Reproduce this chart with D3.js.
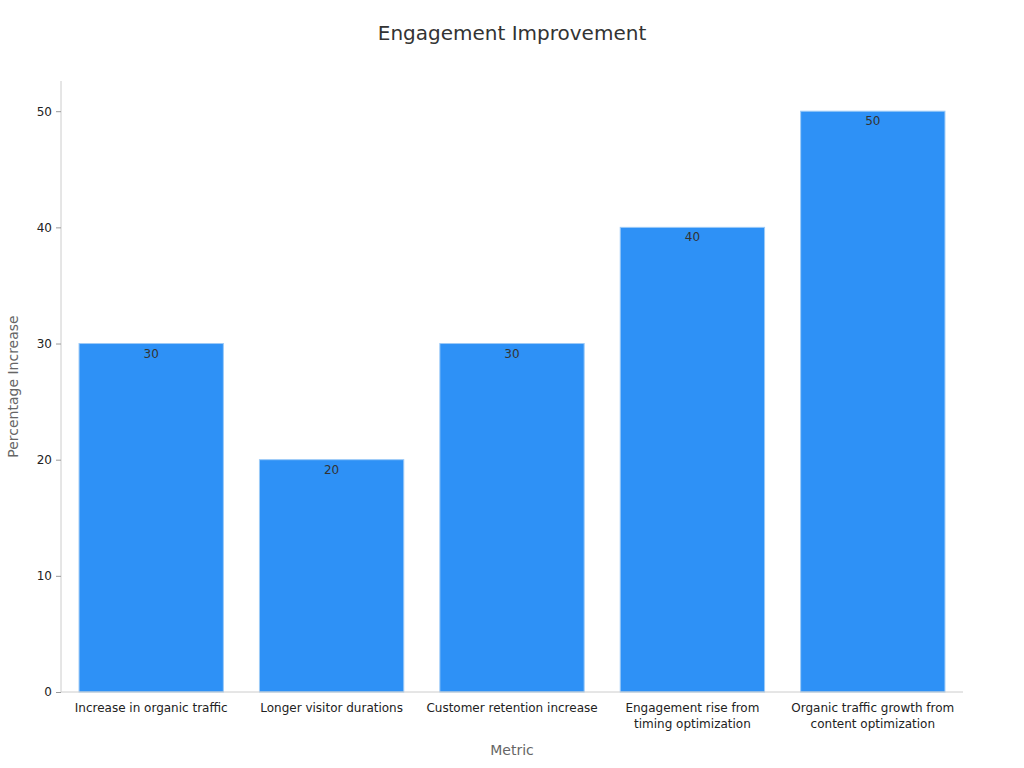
<!DOCTYPE html>
<html>
<head>
<meta charset="utf-8">
<script src="https://cdn.jsdelivr.net/npm/d3@7"></script>
<style>
  body { margin: 0; background: #fff; font-family: "DejaVu Sans", sans-serif; }
</style>
</head>
<body>
<div id="chart"></div>
<script>
// data
const categories = [
  ["Increase in organic traffic"],
  ["Longer visitor durations"],
  ["Customer retention increase"],
  ["Engagement rise from", "timing optimization"],
  ["Organic traffic growth from", "content optimization"]
];
const values = [30, 20, 30, 40, 50];
const yTicks = [0, 10, 20, 30, 40, 50];

const w = 1024, h = 768;
const margin = { top: 81, right: 61, bottom: 76, left: 61 };
const innerWidth = w - margin.left - margin.right;
const innerHeight = h - margin.top - margin.bottom;

const svg = d3.select("#chart").append("svg")
  .attr("width", w).attr("height", h);

const keys = categories.map(c => c.join(" "));

const xScale = d3.scaleBand()
  .domain(keys)
  .range([0, innerWidth])
  .paddingInner(0.2)
  .paddingOuter(0.1);

const yScale = d3.scaleLinear()
  .domain([0, 52.6])
  .range([innerHeight, 0]);

const g = svg.append("g")
  .attr("transform", `translate(${margin.left},${margin.top})`);

// bars
g.selectAll("rect")
  .data(values)
  .enter()
  .append("rect")
  .attr("x", (d, i) => xScale(keys[i]))
  .attr("y", d => yScale(d))
  .attr("width", xScale.bandwidth())
  .attr("height", d => innerHeight - yScale(d))
  .attr("fill", "#2e91f6")
  .attr("stroke", "#9ccaf7")
  .attr("stroke-width", 1);

// value labels
g.selectAll(".val")
  .data(values)
  .enter()
  .append("text")
  .attr("class", "val")
  .attr("x", (d, i) => xScale(keys[i]) + xScale.bandwidth() / 2)
  .attr("y", d => yScale(d) + 14)
  .attr("text-anchor", "middle")
  .attr("font-size", 12)
  .attr("fill", "#333")
  .text(d => d);

// y axis
const yAxis = g.append("g")
  .call(d3.axisLeft(yScale).tickValues(yTicks).tickSize(5).tickPadding(4));
yAxis.selectAll("text").attr("font-size", 12).attr("fill", "#222")
  .attr("font-family", "DejaVu Sans");
yAxis.selectAll("line").attr("stroke", "#999");
yAxis.select(".domain").attr("stroke", "#ccc").attr("d", `M0,0V${innerHeight}`);

// x axis
const xAxis = g.append("g")
  .attr("transform", `translate(0,${innerHeight})`)
  .call(d3.axisBottom(xScale).tickSize(0).tickFormat(""));
xAxis.select(".domain").attr("stroke", "#ccc").attr("d", `M0,0H${innerWidth}`);
xAxis.selectAll(".tick").each(function (d, i) {
  const t = d3.select(this).append("text")
    .attr("text-anchor", "middle")
    .attr("font-size", 12)
    .attr("fill", "#222")
    .attr("font-family", "DejaVu Sans");
  categories[i].forEach((line, j) => {
    t.append("tspan").attr("x", 0).attr("y", 20 + j * 16).text(line);
  });
});

// title & axis labels
svg.append("text")
  .attr("x", w / 2).attr("y", 40)
  .attr("text-anchor", "middle")
  .attr("font-size", 20).attr("fill", "#333")
  .text("Engagement Improvement");

svg.append("text")
  .attr("x", 512).attr("y", 755)
  .attr("text-anchor", "middle")
  .attr("font-size", 14).attr("fill", "#666")
  .text("Metric");

svg.append("text")
  .attr("transform", `translate(18,${margin.top + innerHeight / 2}) rotate(-90)`)
  .attr("text-anchor", "middle")
  .attr("font-size", 14).attr("fill", "#666")
  .text("Percentage Increase");
</script>
</body>
</html>
